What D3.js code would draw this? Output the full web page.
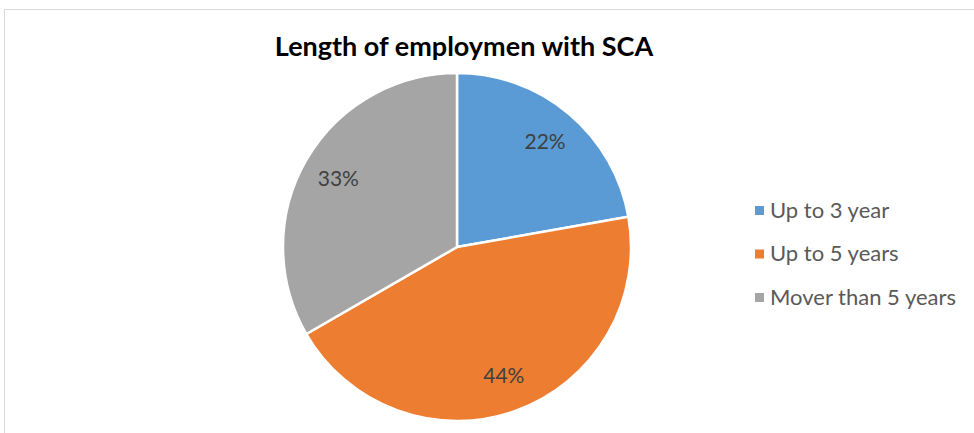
<!DOCTYPE html>
<html>
<head>
<meta charset="utf-8">
<script src="https://cdn.jsdelivr.net/npm/d3@7"></script>
<style>
  body { margin: 0; background: #fff; }
  svg { display: block; font-family: Lato, "Open Sans", sans-serif; }
</style>
</head>
<body>
<div id="chart"></div>
<script>
const categories = ["Up to 3 year", "Up to 5 years", "Mover than 5 years"];
const values = [22, 44, 33];
const colors = ["#5b9bd5", "#ed7d31", "#a5a5a5"];
const title = "Length of employmen with SCA";

const width = 974;
const height = 433;
const cx = 457, cy = 247, radius = 174;

const svg = d3.select("#chart")
  .append("svg")
  .attr("width", width)
  .attr("height", height);

// chart area border
svg.append("rect")
  .attr("x", 4.5)
  .attr("y", 9.5)
  .attr("width", width + 10)
  .attr("height", height + 10)
  .attr("fill", "none")
  .attr("stroke", "#d9d9d9");

svg.append("text")
  .attr("x", 464)
  .attr("y", 56)
  .attr("text-anchor", "middle")
  .style("font-size", "27px")
  .style("font-weight", "bold")
  .style("fill", "#000")
  .text(title);

const total = d3.sum(values);
const pie = d3.pie().sort(null).value((d) => d.value);
const data = pie(categories.map((c, i) => ({ name: c, value: values[i], color: colors[i] })));

const arc = d3.arc().innerRadius(0).outerRadius(radius);
const labelArc = d3.arc().innerRadius(137).outerRadius(137);

const g = svg.append("g").attr("transform", `translate(${cx},${cy})`);

g.selectAll("path")
  .data(data)
  .enter()
  .append("path")
  .attr("d", arc)
  .attr("fill", (d) => d.data.color)
  .attr("stroke", "#fff")
  .attr("stroke-width", 2.5);

g.selectAll("text")
  .data(data)
  .enter()
  .append("text")
  .attr("transform", (d) => `translate(${labelArc.centroid(d)})`)
  .attr("text-anchor", "middle")
  .attr("dy", "0.35em")
  .style("font-size", "21px")
  .style("fill", "#404040")
  .text((d) => Math.round((d.data.value / total) * 100) + "%");

// legend
const legend = svg.append("g").attr("transform", "translate(755,210)");
const rows = legend.selectAll("g")
  .data(data)
  .enter()
  .append("g")
  .attr("transform", (d, i) => `translate(0,${i * 43.5})`);

rows.append("rect")
  .attr("x", 0)
  .attr("y", -4)
  .attr("width", 9)
  .attr("height", 9)
  .attr("fill", (d) => d.data.color);

rows.append("text")
  .attr("x", 15)
  .attr("dy", "0.35em")
  .style("font-size", "22px")
  .style("fill", "#595959")
  .text((d) => d.data.name);
</script>
</body>
</html>
